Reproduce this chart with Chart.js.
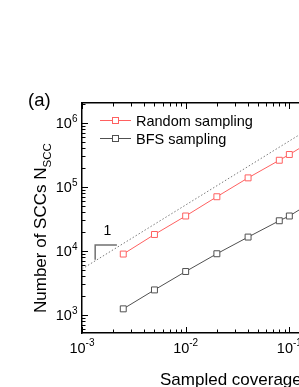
<!DOCTYPE html>
<html>
<head>
<meta charset="utf-8">
<script src="https://cdn.jsdelivr.net/npm/chart.js@4.4.0/dist/chart.umd.min.js"></script>
<style>
    html, body { margin: 0; padding: 0; background: #fff; overflow: hidden; width: 299px; height: 387px; }
    canvas { display: block; }
</style>
</head>
<body>
<canvas id="sccChart" width="420" height="387"></canvas>
<script>
// sampled coverage (x) and number of SCCs for each sampling method
const coverage = [0.0025, 0.005, 0.01, 0.02, 0.04, 0.08, 0.1, 0.2];
const randomScc = [8.9e3, 1.8e4, 3.5e4, 7.0e4, 1.38e5, 2.6e5, 3.2e5, 6.3e5];
const bfsScc = [1.24e3, 2.45e3, 4.75e3, 9.0e3, 1.64e4, 2.95e4, 3.5e4, 7.0e4];
const seriesNames = ['Random sampling', 'BFS sampling'];

// dotted guide line (slope 1) and the little slope triangle
const guideX = [1e-3, 1];
const guideY = [5.2e3, 5.2e6];
const triX = [2.17e-3, 1.34e-3, 1.34e-3];
const triY = [1.23e4, 1.23e4, 7.24e3];
const triLabelX = 1.76e-3;
const triLabelY = 1.75e4;
const triLabelText = '1';

// axis decades that get a 10^n label
const xDecades = [-3, -2, -1, 0];
const yDecades = [3, 4, 5, 6];

const redColor = '#ff6060';
const grayColor = '#505050';
const FONT = '"Liberation Sans", Arial, sans-serif';

function toPoints(xs, ys) {
    return xs.map((x, i) => ({ x: x, y: ys[i] }));
}

// draws "10" with a raised exponent, align = 'center' or 'right'
function drawPow(ctx, exp, x, baseline, align, size, supSize, lift) {
    ctx.font = size + 'px ' + FONT;
    const wBase = ctx.measureText('10').width;
    ctx.font = supSize + 'px ' + FONT;
    const wExp = ctx.measureText(String(exp)).width;
    const total = wBase + wExp;
    let start = align === 'right' ? x - total : x - total / 2;
    ctx.textAlign = 'left';
    ctx.textBaseline = 'alphabetic';
    ctx.font = size + 'px ' + FONT;
    ctx.fillText('10', start, baseline);
    ctx.font = supSize + 'px ' + FONT;
    ctx.fillText(String(exp), start + wBase, baseline - lift);
}

const decorPlugin = {
    id: 'decor',
    afterDraw(chart) {
        const ctx = chart.ctx;
        const area = chart.chartArea;
        const xs = chart.scales.x;
        const ys = chart.scales.y;
        ctx.save();
        ctx.strokeStyle = '#000';
        ctx.lineWidth = 1;

        // inward ticks on bottom, top and left axes
        ctx.beginPath();
        for (let d = -3; d < 0; d++) {
            for (let k = 1; k <= 9; k++) {
                const px = Math.round(xs.getPixelForValue(k * Math.pow(10, d))) + 0.5;
                const len = k === 1 ? 6 : 3.5;
                ctx.moveTo(px, area.bottom);
                ctx.lineTo(px, area.bottom - len);
                ctx.moveTo(px, area.top);
                ctx.lineTo(px, area.top + len);
            }
        }
        for (let d = 2; d <= 6; d++) {
            for (let k = 1; k <= 9; k++) {
                const v = k * Math.pow(10, d);
                if (v < ys.min || v > ys.max) continue;
                const py = Math.round(ys.getPixelForValue(v)) + 0.5;
                const len = k === 1 ? 6 : 3.5;
                ctx.moveTo(area.left, py);
                ctx.lineTo(area.left + len, py);
            }
        }
        ctx.stroke();

        // tick labels
        ctx.fillStyle = '#000';
        xDecades.forEach(d => {
            drawPow(ctx, d, xs.getPixelForValue(Math.pow(10, d)), 352.5, 'center', 14.5, 10, 7);
        });
        yDecades.forEach(d => {
            drawPow(ctx, d, 77.5, ys.getPixelForValue(Math.pow(10, d)) + 5.5, 'right', 14.5, 10, 6);
        });

        // legend inside the plot
        const legendRows = [
            { name: seriesNames[0], color: redColor, y: 120.5 },
            { name: seriesNames[1], color: grayColor, y: 138.5 }
        ];
        legendRows.forEach(row => {
            ctx.strokeStyle = row.color;
            ctx.lineWidth = 1;
            ctx.beginPath();
            ctx.moveTo(100, row.y);
            ctx.lineTo(131, row.y);
            ctx.stroke();
            ctx.fillStyle = '#fff';
            ctx.fillRect(112.5, row.y - 3, 6, 6);
            ctx.strokeRect(112.5, row.y - 3, 6, 6);
            ctx.fillStyle = '#000';
            ctx.font = '14.5px ' + FONT;
            ctx.textAlign = 'left';
            ctx.textBaseline = 'alphabetic';
            ctx.fillText(row.name, 136, row.y + 5.2);
        });

        // slope label
        ctx.font = '14px ' + FONT;
        ctx.textAlign = 'center';
        ctx.fillText(triLabelText, xs.getPixelForValue(triLabelX), ys.getPixelForValue(triLabelY));

        // panel letter
        ctx.font = '18.5px ' + FONT;
        ctx.textAlign = 'left';
        ctx.fillText('(a)', 28, 106);

        // x axis title
        ctx.font = '17px ' + FONT;
        ctx.fillText('Sampled coverage', 160, 385);

        // y axis title with subscript
        ctx.translate(46, 313);
        ctx.rotate(-Math.PI / 2);
        ctx.font = '17px ' + FONT;
        const main = 'Number of SCCs N';
        const w = ctx.measureText(main).width;
        ctx.fillText(main, 0, 0);
        ctx.font = '11.5px ' + FONT;
        ctx.fillText('SCC', w, 5);
        ctx.restore();
    }
};

const axisBorder = { display: true, color: '#000', width: 1.5 };

new Chart(document.getElementById('sccChart').getContext('2d'), {
    type: 'line',
    data: {
        datasets: [
            {
                label: 'guide',
                data: toPoints(guideX, guideY),
                borderColor: '#7a7a7a',
                borderWidth: 1,
                borderDash: [1.5, 2],
                pointRadius: 0
            },
            {
                label: 'slope',
                data: toPoints(triX, triY),
                borderColor: '#707070',
                borderWidth: 1.5,
                pointRadius: 0
            },
            {
                label: seriesNames[0],
                data: toPoints(coverage, randomScc),
                borderColor: redColor,
                backgroundColor: '#fff',
                borderWidth: 1,
                pointStyle: 'rect',
                pointRadius: 4.2,
                pointBorderWidth: 1
            },
            {
                label: seriesNames[1],
                data: toPoints(coverage, bfsScc),
                borderColor: grayColor,
                backgroundColor: '#fff',
                borderWidth: 1,
                pointStyle: 'rect',
                pointRadius: 4.2,
                pointBorderWidth: 1
            }
        ]
    },
    options: {
        responsive: false,
        animation: false,
        events: [],
        layout: { padding: { left: 82, top: 103, right: 27, bottom: 54 } },
        plugins: { legend: { display: false }, tooltip: { enabled: false } },
        scales: {
            x: {
                type: 'logarithmic', position: 'bottom', min: 1e-3, max: 1,
                ticks: { display: false },
                grid: { display: false, drawTicks: false },
                border: axisBorder
            },
            xTop: {
                type: 'logarithmic', position: 'top', min: 1e-3, max: 1,
                ticks: { display: false },
                grid: { display: false, drawTicks: false },
                border: axisBorder
            },
            y: {
                type: 'logarithmic', position: 'left', min: 520, max: 2.04e6,
                ticks: { display: false },
                grid: { display: false, drawTicks: false },
                border: axisBorder
            }
        }
    },
    plugins: [decorPlugin]
});
</script>
</body>
</html>
